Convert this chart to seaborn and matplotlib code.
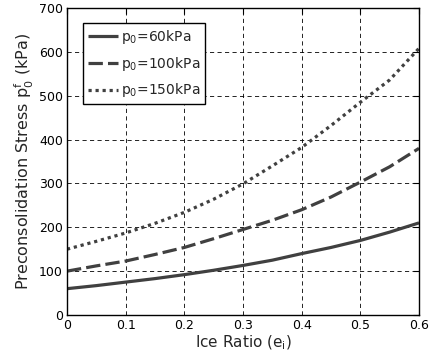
import numpy as np
import pandas as pd
import matplotlib
matplotlib.use("Agg")
import matplotlib.pyplot as plt
import seaborn as sns

# Data
ice_ratio = [0.0, 0.05, 0.10, 0.15, 0.20, 0.25, 0.30, 0.35, 0.40, 0.45, 0.50, 0.55, 0.60]
p60  = [60, 67, 75, 83, 92, 102, 113, 125, 140, 154, 170, 189, 210]
p100 = [100, 112, 123, 138, 154, 174, 195, 216, 240, 269, 303, 338, 380]
p150 = [150, 168, 187, 209, 234, 264, 299, 340, 382, 432, 485, 536, 608]
series_labels = [r"$\mathregular{p_0}$=60kPa", r"$\mathregular{p_0}$=100kPa", r"$\mathregular{p_0}$=150kPa"]
x_ticks = [0, 0.1, 0.2, 0.3, 0.4, 0.5, 0.6]
x_tick_labels = ["0", "0.1", "0.2", "0.3", "0.4", "0.5", "0.6"]
y_ticks = [0, 100, 200, 300, 400, 500, 600, 700]

sns.set_theme(style="white")
plt.rcParams["font.family"] = ["DejaVu Sans"]
plt.rcParams["mathtext.fontset"] = "dejavusans"

df = pd.DataFrame({
    "x": ice_ratio * 3,
    "y": p60 + p100 + p150,
    "s": [series_labels[0]] * len(ice_ratio) + [series_labels[1]] * len(ice_ratio) + [series_labels[2]] * len(ice_ratio),
})

fig = plt.figure(figsize=(4.29, 3.63), dpi=100)
ax = fig.add_axes([67 / 429, 48 / 363, 352 / 429, 307 / 363])

color = "#404040"
lw = 2.3
styles = ["-", (0, (4.5, 1.6)), (0, (1.0, 1.2))]
for lab, st in zip(series_labels, styles):
    sub = df[df["s"] == lab]
    sns.lineplot(data=sub, x="x", y="y", ax=ax, color=color, linewidth=lw,
                 linestyle=st, label=lab, legend=False)

lines = ax.get_lines()
for ln, st in zip(lines, styles):
    ln.set_linestyle(st)
    ln.set_dash_capstyle("butt")
    ln.set_solid_capstyle("butt")

ax.set_xlim(0, 0.6)
ax.set_ylim(0, 700)
ax.set_xticks(x_ticks)
ax.set_xticklabels(x_tick_labels)
ax.set_yticks(y_ticks)
ax.grid(True, color="black", linestyle=(0, (5, 4)), linewidth=0.6)
ax.set_axisbelow(True)
for sp in ax.spines.values():
    sp.set_visible(True)
    sp.set_color("black")
    sp.set_linewidth(1.0)
ax.tick_params(direction="in", top=True, right=True, length=4, width=0.8,
               labelsize=9, colors="black", pad=3)

ax.set_xlabel(r"Ice Ratio ($\mathregular{e_i}$)", fontsize=11, labelpad=1)
ax.set_ylabel(r"Preconsolidation Stress $\mathregular{p_0^f}$ (kPa)", fontsize=11.5, labelpad=2)

leg = ax.legend(handles=lines, labels=series_labels, loc="upper left",
                bbox_to_anchor=(0.045, 0.95), fontsize=10, frameon=True,
                fancybox=False, edgecolor="black", framealpha=1,
                handlelength=2.2, handletextpad=0.2, borderpad=0.35,
                labelspacing=0.62, borderaxespad=0)
leg.get_frame().set_linewidth(1.0)

fig.savefig("out.png", dpi=100)
